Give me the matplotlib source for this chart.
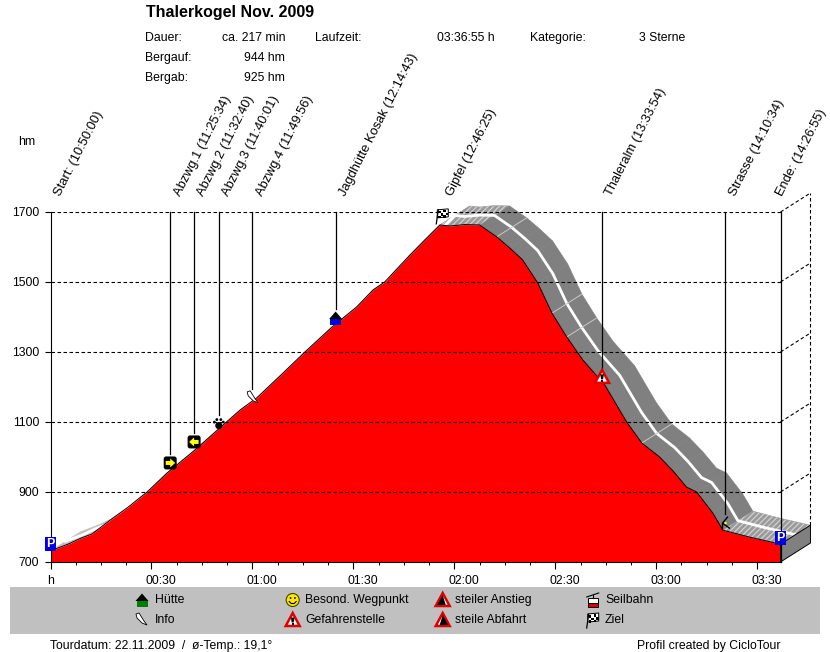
# Hoehenprofil Thalerkogel, nachgebaut
import matplotlib
matplotlib.use('Agg')
import matplotlib.pyplot as plt
from matplotlib.patches import Polygon, Rectangle, Circle, FancyBboxPatch
from matplotlib.transforms import ScaledTranslation

plt.rcParams['font.family'] = ['Liberation Sans', 'DejaVu Sans']
plt.rcParams['hatch.linewidth'] = 0.9

# profile, minutes since start / height in hm
zeit = [0, 5.2, 9.0, 12.3, 18.6, 22.7, 28.7, 34.6, 42.9, 50.3, 56.3, 61.3, 69.1, 75.6, 83.6, 91.0,
        95.8, 99.3, 103.2, 106.8, 111.2, 115.7, 118.6, 123.0, 127.5, 132.6, 136.5, 140.3, 144.8,
        149.0, 153.4, 158.2, 164.7, 171.2, 175.7, 181.0, 185.0, 189.0, 192.0, 196.8, 199.8, 207.8, 216.9]
hoehe = [732, 751, 768, 780, 826, 854, 900, 954, 1020, 1083, 1134, 1169, 1240, 1300, 1371, 1429,
         1477, 1500, 1540, 1577, 1620, 1663, 1660, 1664, 1663, 1629, 1597, 1563, 1497,
         1411, 1343, 1277, 1206, 1100, 1040, 1000, 960, 914, 900, 840, 791, 771, 751]

# waypoints
wp_namen = ['Start: (10:50:00)', 'Abzwg.1 (11:25:34)', 'Abzwg.2 (11:32:40)', 'Abzwg.3 (11:40:01)',
            'Abzwg.4 (11:49:56)', 'Jagdhütte Kosak (12:14:43)', 'Gipfel (12:46:25)',
            'Thaleralm (13:33:54)', 'Strasse (14:10:34)', 'Ende: (14:26:55)']
wp_zeit = [0, 35.57, 42.67, 50.02, 59.93, 84.72, 116.42, 163.9, 200.57, 216.92]
wp_hoehe = [751, 983, 1043, 1094, 1169, 1397, 1689, 1229, 811, 769]
wp_icon = ['park', 'rechts', 'links', 'tatze', 'info', 'haus', 'ziel', 'warn', 'figur', 'park']
wp_linie = [False, True, True, True, True, True, False, True, True, True]

# where the ribbon has a thin light cross line
quer_zeit = [132.6, 149.0, 153.4, 175.7]

y_ticks = [700, 900, 1100, 1300, 1500, 1700]
x_major = [0, 30, 60, 90, 120, 150, 180, 210]
x_labels = ['h', '00:30', '01:00', '01:30', '02:00', '02:30', '03:00', '03:30']
x_minor = [7.5 * i for i in range(1, 29)]

ROT = '#ff0000'
GRAU = '#808080'
HELL = '#c0c0c0'
# 3d offset of the back edge in data units (30 px right, 19 px up)
DX = 8.9
DY = 54.3

fig = plt.figure(figsize=(8.3, 6.52), dpi=100)
ax = fig.add_axes([50.5 / 830, 90 / 652, 730 / 830, 350 / 652])
ax.set_xlim(0, 216.92)
ax.set_ylim(700, 1700)
ax.patch.set_visible(False)
for s in ['top', 'right']:
    ax.spines[s].set_visible(False)
ax.spines['left'].set_linewidth(0.8)
ax.spines['bottom'].set_linewidth(0.8)
ax.set_axisbelow(False)

ax.set_yticks(y_ticks)
ax.set_xticks(x_major)
ax.set_xticklabels(x_labels)
ax.set_xticks(x_minor, minor=True)
ax.tick_params(axis='y', length=4, width=0.8, pad=4, labelsize=8.8)
ax.tick_params(axis='x', which='major', length=5, width=0.8, pad=4, labelsize=8.8)
ax.tick_params(axis='x', which='minor', length=2, width=0.7)
for lab, txt_ in zip(ax.get_xticklabels(), x_labels):
    if txt_ != 'h':
        lab.set_transform(lab.get_transform() + ScaledTranslation(7 / 72, 0, fig.dpi_scale_trans))

# ribbon behind the red area
for i in range(len(zeit) - 1):
    t0, t1 = zeit[i], zeit[i + 1]
    h0, h1 = hoehe[i], hoehe[i + 1]
    quad = [(t0, h0), (t1, h1), (t1 + DX, h1 + DY), (t0 + DX, h0 + DY)]
    steigung = (h1 - h0) / (t1 - t0)
    if steigung >= 1:
        ax.add_patch(Polygon(quad, fc=HELL, ec=HELL, lw=0.4, zorder=1, clip_on=False))
    elif steigung > -4:
        ax.add_patch(Polygon(quad, fc='#9a9a9a', ec='#9a9a9a', lw=0.4, zorder=1, clip_on=False))
        ax.add_patch(Polygon(quad, fill=False, ec='#d0d0d0', hatch='//////', lw=0, zorder=1.1, clip_on=False))
    else:
        ax.add_patch(Polygon(quad, fc=GRAU, ec=GRAU, lw=0.4, zorder=1, clip_on=False))

ax.plot([t + DX / 2 for t in zeit], [h + DY / 2 for h in hoehe], color='white', lw=2,
        zorder=1.5, clip_on=False)

for t in quer_zeit:
    i = zeit.index(t)
    ax.plot([t, t + DX], [hoehe[i], hoehe[i] + DY], color='#c8c8c8', lw=0.7, zorder=1.6, clip_on=False)

# red area with thin outline
ax.fill_between(zeit, 700, hoehe, color=ROT, lw=0, zorder=2)
ax.plot(zeit, hoehe, color='black', lw=0.7, zorder=2.1)

# end face of the 3d band
ax.add_patch(Polygon([(216.92, 700), (216.92 + DX, 700 + DY), (216.92 + DX, 751 + DY), (216.92, 751)],
                     fc=GRAU, ec='black', lw=0.7, zorder=2, clip_on=False))

# grid and back wall
for h in y_ticks[1:]:
    ax.plot([0, 216.92], [h, h], color='black', lw=0.8, dashes=(3.2, 2.2), zorder=3)
    ax.plot([216.92, 216.92 + DX], [h, h + DY], color='black', lw=0.8, dashes=(3.2, 2.2), zorder=3, clip_on=False)
ax.plot([216.92 + DX, 216.92 + DX], [751 + DY, 1700 + DY], color='black', lw=0.8, dashes=(3.2, 2.2),
        zorder=3, clip_on=False)

# vertical waypoint lines
for t, h, icon, an in zip(wp_zeit, wp_hoehe, wp_icon, wp_linie):
    if an:
        unten = 700 if icon == 'park' else h + 25
        ax.plot([t, t], [unten, 1700], color='black', lw=0.9, zorder=3.5, clip_on=False)

# overlay in pixel coordinates for text and icons
ov = fig.add_axes([0, 0, 1, 1])
ov.set_xlim(0, 830)
ov.set_ylim(652, 0)
ov.axis('off')


def to_px(t, h):
    x, y = ax.transData.transform((t, h))
    return x, 652 - y


def txt(x, y, s, **kw):
    kw.setdefault('fontsize', 8.8)
    kw.setdefault('va', 'center')
    ov.text(x, y, s, **kw)


def poly(pts, **kw):
    ov.add_patch(Polygon(pts, **kw))


def icon_park(x, y):
    ov.add_patch(Rectangle((x - 5.5, y - 7), 11, 14, fc='#0000e0', ec='none'))
    txt(x, y, 'P', color='white', fontweight='bold', fontsize=9, ha='center')


def icon_pfeil(x, y, rechts):
    ov.add_patch(FancyBboxPatch((x - 5, y - 5), 10, 10, boxstyle='round,pad=1.5,rounding_size=2.5', fc='black', ec='none'))
    s = 1 if rechts else -1
    poly([(x - 4.5 * s, y - 2), (x, y - 2), (x, y - 4.5), (x + 5 * s, y), (x, y + 4.5), (x, y + 2), (x - 4.5 * s, y + 2)],
         fc='#ffff00', ec='none')


def icon_tatze(x, y):
    ov.add_patch(Circle((x, y + 1.5), 3.6, fc='black', ec='none'))
    for dx, dy in [(-4.5, -2), (-2, -4.5), (2, -4.5), (4.5, -2)]:
        ov.add_patch(Circle((x + dx, y + dy), 1.4, fc='black', ec='none'))


def icon_info(x, y):
    poly([(x - 5, y - 6), (x - 2, y - 7), (x + 3, y + 1), (x + 6, y + 5), (x + 1, y + 3), (x - 4, y - 2)], fc='white', ec='black', lw=0.6)


def icon_haus(x, y, farbe):
    ov.add_patch(Rectangle((x - 5.5, y), 11, 6.5, fc=farbe, ec='none'))
    poly([(x - 6.5, y + 1), (x, y - 6.5), (x + 6.5, y + 1)], fc='black', ec='none')


def icon_warn(x, y):
    poly([(x - 7, y + 6), (x, y - 7), (x + 7, y + 6)], fc='white', ec='#e00000', lw=1.8, joinstyle='miter')
    poly([(x - 1.8, y - 2.5), (x + 1.8, y - 2.5), (x + 1, y + 2.5), (x - 1, y + 2.5)], fc='black', ec='none')
    ov.add_patch(Rectangle((x - 1.2, y + 3), 2.4, 2, fc='black', ec='none'))


def icon_steil(x, y, anstieg):
    poly([(x - 7, y + 6), (x, y - 7), (x + 7, y + 6)], fc='white', ec='#e00000', lw=1.8, joinstyle='miter')
    if anstieg:
        poly([(x - 5.5, y + 5), (x, y - 5), (x + 3, y + 5)], fc='black', ec='none')
    else:
        poly([(x - 3, y + 5), (x, y - 5), (x + 5.5, y + 5)], fc='black', ec='none')


def icon_ziel(x, y):
    ov.plot([x - 4, x - 6], [y - 6, y + 8], color='black', lw=0.9)
    poly([(x - 5, y - 6), (x + 6, y - 7), (x + 6, y + 1), (x - 5, y + 2)], fc='white', ec='black', lw=0.7)
    for dx, dy in [(-4, -5), (1, -6), (-1.5, -2.5), (3.5, -3), (-4, 0), (1, -0.5)]:
        ov.add_patch(Rectangle((x + dx, y + dy), 2.5, 2.5, fc='black', ec='none'))


def icon_figur(x, y):
    ov.plot([x + 2, x - 3, x + 4], [y - 6, y, y + 5], color='black', lw=1)
    ov.plot([x - 3, x - 3], [y, y + 6], color='black', lw=1)
    ov.add_patch(Circle((x, y), 1.3, fc='#ffff00', ec='none'))


def icon_smiley(x, y):
    ov.add_patch(Circle((x, y), 6.5, fc='#ffe800', ec='#444400', lw=0.8))
    ov.add_patch(Circle((x - 2.2, y - 2), 0.9, fc='black', ec='none'))
    ov.add_patch(Circle((x + 2.2, y - 2), 0.9, fc='black', ec='none'))
    ov.plot([x - 3.5, x - 1.5, x + 1.5, x + 3.5], [y + 1.5, y + 3.5, y + 3.5, y + 1.5], color='black', lw=0.8)


def icon_seilbahn(x, y):
    ov.plot([x - 6, x + 6], [y - 3, y - 7], color='black', lw=0.8)
    ov.plot([x, x], [y - 5, y - 2], color='black', lw=0.8)
    ov.add_patch(Rectangle((x - 5, y - 2), 10, 5, fc='white', ec='black', lw=0.7))
    ov.add_patch(Rectangle((x - 5, y + 3), 10, 4, fc='#e00000', ec='black', lw=0.7))


# waypoint labels and icons
for name, t, h, icon in zip(wp_namen, wp_zeit, wp_hoehe, wp_icon):
    x, _ = to_px(t, 1700)
    # last label would run out of the picture otherwise
    ov.text(min(x + 7, 780), 195, name, rotation=63, rotation_mode='anchor', ha='left', va='center', fontsize=9.3)
    px, py = to_px(t, h)
    if icon == 'park':
        icon_park(px, py)
    elif icon == 'rechts':
        icon_pfeil(px, py, True)
    elif icon == 'links':
        icon_pfeil(px, py, False)
    elif icon == 'tatze':
        icon_tatze(px, py)
    elif icon == 'info':
        icon_info(px, py)
    elif icon == 'haus':
        icon_haus(px, py, '#0000e0')
    elif icon == 'ziel':
        icon_ziel(px, py)
    elif icon == 'warn':
        icon_warn(px, py)
    elif icon == 'figur':
        icon_figur(px, py)

# header
txt(146, 13, 'Thalerkogel Nov. 2009', fontsize=11.5, fontweight='bold')
txt(145, 38, 'Dauer:')
txt(285, 38, 'ca. 217 min', ha='right')
txt(315, 38, 'Laufzeit:')
txt(437, 38, '03:36:55 h')
txt(530, 38, 'Kategorie:')
txt(639, 38, '3 Sterne')
txt(145, 58, 'Bergauf:')
txt(285, 58, '944 hm', ha='right')
txt(145, 78, 'Bergab:')
txt(285, 78, '925 hm', ha='right')
txt(18, 142, 'hm')

# legend band
ov.add_patch(Rectangle((10, 587), 810, 47, fc=HELL, ec='none', zorder=0))
icon_haus(142, 600, '#008000')
txt(155, 600, 'Hütte')
icon_info(141, 620)
txt(155, 620, 'Info')
icon_smiley(292.7, 600)
txt(305, 600, 'Besond. Wegpunkt')
icon_warn(292.7, 620)
txt(305, 620, 'Gefahrenstelle')
icon_steil(442.7, 600, True)
txt(455, 600, 'steiler Anstieg')
icon_steil(442.7, 620, False)
txt(455, 620, 'steile Abfahrt')
icon_seilbahn(592.7, 600)
txt(605, 600, 'Seilbahn')
icon_ziel(592.7, 620)
txt(605, 620, 'Ziel')

# footer
txt(50, 646, 'Tourdatum: 22.11.2009  /  ø-Temp.: 19,1°')
txt(780, 646, 'Profil created by CicloTour', ha='right')

fig.savefig('out.png', dpi=100)
